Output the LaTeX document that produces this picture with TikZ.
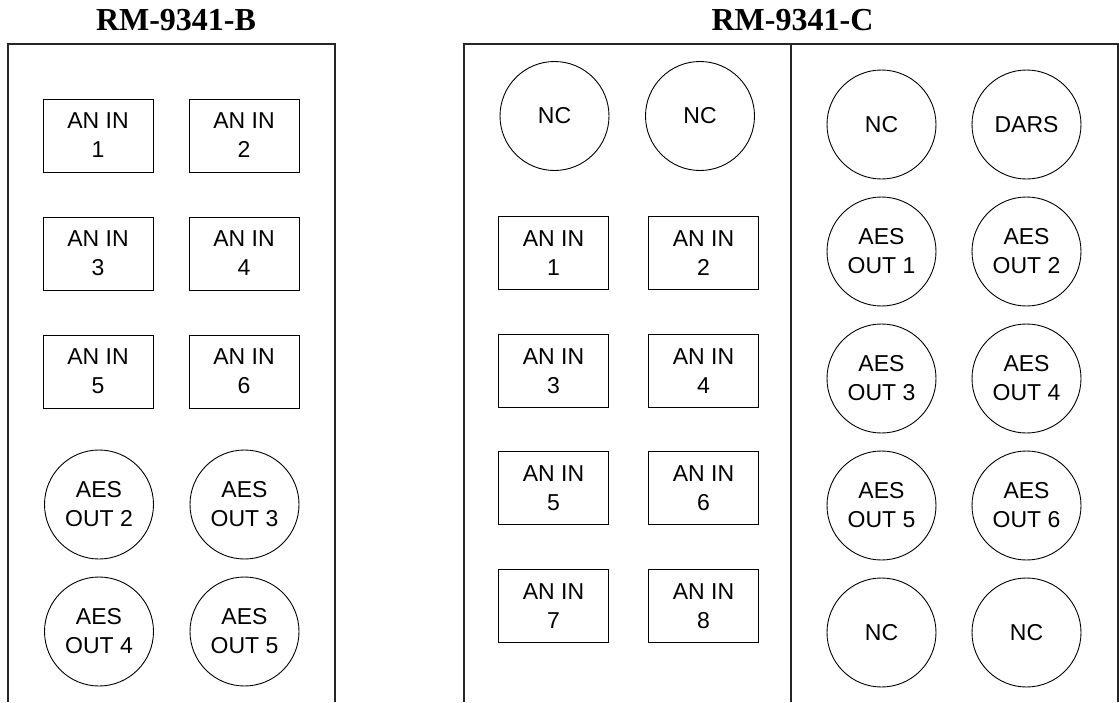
\documentclass[tikz,border=0pt]{standalone}
\usepackage{fontspec}
\setmainfont{Liberation Sans}
\newfontfamily\titlefont{Liberation Serif}
\begin{document}
\begin{tikzpicture}[x=1pt,y=-1pt,
  panel/.style={line width=1.1pt,draw=black!85},
  lbl/.style={font=\fontsize{23}{29}\selectfont,align=center},
  jackbox/.style={lbl,draw,line width=0.9pt,rectangle,minimum width=110pt,minimum height=73pt,inner sep=0pt},
  jackcirc/.style={lbl,draw,line width=0.9pt,circle,minimum size=109pt,inner sep=0pt},
  ttl/.style={font=\titlefont\bfseries\fontsize{32}{36}\selectfont,anchor=base}]
\useasboundingbox (0,0) rectangle (1119,702);
\fill[white] (0,0) rectangle (1119,702);
% titles
\node[ttl] (tB) at (176,30.7) {RM-9341-B};
\node[ttl] (tC) at (792.5,30.7) {RM-9341-C};
% panels
\draw[panel] (8,702) -- (8,44) -- (335,44) -- (335,702);
\draw[panel] (464,702) -- (464,44) -- (1118,44) -- (1118,702);
\draw[panel] (791,44) -- (791,702);
% left panel B
\node[jackbox] (b1) at (98,135.5) {AN IN\\1};
\node[jackbox] (b2) at (244,135.5) {AN IN\\2};
\node[jackbox] (b3) at (98,253.5) {AN IN\\3};
\node[jackbox] (b4) at (244,253.5) {AN IN\\4};
\node[jackbox] (b5) at (98,371.5) {AN IN\\5};
\node[jackbox] (b6) at (244,371.5) {AN IN\\6};
\node[jackcirc] (bo2) at (99,504.5) {AES\\OUT 2};
\node[jackcirc] (bo3) at (244.5,504.5) {AES\\OUT 3};
\node[jackcirc] (bo4) at (99,631.5) {AES\\OUT 4};
\node[jackcirc] (bo5) at (244.5,631.5) {AES\\OUT 5};
% right panel C, left half
\node[jackcirc] (cn1) at (554.5,116) {NC};
\node[jackcirc] (cn2) at (700,116) {NC};
\node[jackbox] (c1) at (553.5,253) {AN IN\\1};
\node[jackbox] (c2) at (703.5,253) {AN IN\\2};
\node[jackbox] (c3) at (553.5,371) {AN IN\\3};
\node[jackbox] (c4) at (703.5,371) {AN IN\\4};
\node[jackbox] (c5) at (553.5,488) {AN IN\\5};
\node[jackbox] (c6) at (703.5,488) {AN IN\\6};
\node[jackbox] (c7) at (553.5,606) {AN IN\\7};
\node[jackbox] (c8) at (703.5,606) {AN IN\\8};
% right panel C, right half
\node[jackcirc] (cn3) at (881.5,124.5) {NC};
\node[jackcirc] (cd) at (1026.5,124.5) {DARS};
\node[jackcirc] (co1) at (881.5,251.5) {AES\\OUT 1};
\node[jackcirc] (co2) at (1026.5,251.5) {AES\\OUT 2};
\node[jackcirc] (co3) at (881.5,378.5) {AES\\OUT 3};
\node[jackcirc] (co4) at (1026.5,378.5) {AES\\OUT 4};
\node[jackcirc] (co5) at (881.5,505.5) {AES\\OUT 5};
\node[jackcirc] (co6) at (1026.5,505.5) {AES\\OUT 6};
\node[jackcirc] (cn4) at (881.5,632.5) {NC};
\node[jackcirc] (cn5) at (1026.5,632.5) {NC};
\end{tikzpicture}
\end{document}
